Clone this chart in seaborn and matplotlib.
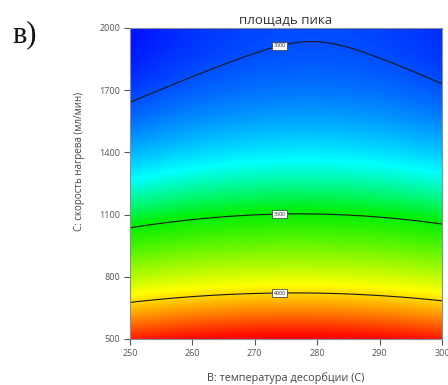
import numpy as np
import matplotlib
matplotlib.use("Agg")
import matplotlib.pyplot as plt
from matplotlib.colors import LinearSegmentedColormap, Normalize
import seaborn as sns

# Factor ranges
temp_range = [250, 300]          # B: desorption temperature, C
rate_range = [500, 2000]         # C: heating rate, ml/min

# Quadratic response-surface model for peak area (coded factors -1..+1)
coef_intercept = 3352.5
coef_B = 13.0
coef_C = -688.3
coef_BC = 9.0
coef_BB = -65.0
coef_CC = 328.9

contour_levels = [3000, 3500, 4000]
label_temp = 274.0

x_ticks = [250, 260, 270, 280, 290, 300]
y_ticks = [500, 800, 1100, 1400, 1700, 2000]

# colour ramp used for the surface shading (fraction of response range)
ramp_pos = [0.0, 0.24, 0.40, 0.71, 0.96, 1.0]
ramp_col = ["#0010ff", "#00ffff", "#00f000", "#ffff00", "#ff1a00", "#ff0000"]

sns.set_theme(style="white")
plt.rcParams["font.family"] = ["Open Sans", "DejaVu Sans"]

fig = plt.figure(figsize=(4.48, 3.85), dpi=100)
ax = fig.add_axes([130 / 448, 1 - 339 / 385, 312 / 448, 311 / 385])

B = np.linspace(temp_range[0], temp_range[1], 251)
C = np.linspace(rate_range[0], rate_range[1], 301)
BB, CC = np.meshgrid(B, C)
b = (BB - np.mean(temp_range)) / (np.diff(temp_range)[0] / 2)
c = (CC - np.mean(rate_range)) / (np.diff(rate_range)[0] / 2)
Z = (coef_intercept + coef_B * b + coef_C * c + coef_BC * b * c
     + coef_BB * b ** 2 + coef_CC * c ** 2)

cmap = LinearSegmentedColormap.from_list("resp", list(zip(ramp_pos, ramp_col)))
norm = Normalize(vmin=Z.min(), vmax=Z.max())
ax.imshow(Z, origin="lower", aspect="auto", cmap=cmap, norm=norm,
          extent=[temp_range[0], temp_range[1], rate_range[0], rate_range[1]],
          interpolation="bilinear")

cs = ax.contour(BB, CC, Z, levels=contour_levels, colors="#1a1a1a",
                linewidths=0.8)

# boxed level labels placed on each line at the chosen temperature
for lev, segs in zip(contour_levels, cs.allsegs):
    pts = np.vstack(segs)
    i = np.argmin(np.abs(pts[:, 0] - label_temp))
    ax.text(pts[i, 0], pts[i, 1], f"{lev}", fontsize=3.8, ha="center",
            va="center", color="#222222",
            bbox=dict(boxstyle="square,pad=0.25", fc="white", ec="#333333",
                      lw=0.5))

ax.set_xlim(temp_range)
ax.set_ylim(rate_range)
ax.set_xticks(x_ticks)
ax.set_yticks(y_ticks)
ax.tick_params(axis="both", direction="out", length=4.5, width=0.8,
               color="#555555", labelsize=6.5, labelcolor="#555555", pad=2.5,
               bottom=True, left=True)
for sp in ax.spines.values():
    sp.set_color("#8a8aa0")
    sp.set_linewidth(0.8)

ax.set_title("площадь пика", fontsize=9.5, color="#333333", pad=3)
ax.set_xlabel("B: температура десорбции (C)", fontsize=7.8, color="#444444",
              labelpad=10.5)
ax.set_ylabel("C: скорость нагрева (мл/мин)", fontsize=7, color="#444444")
ax.yaxis.set_label_coords(-0.145, 0.57)

fig.text(12 / 448, 1 - 35 / 385, "в)", fontsize=22, va="center", ha="left",
         family=["Liberation Serif", "DejaVu Serif"], color="#111111")

fig.savefig("out.png", dpi=100)
